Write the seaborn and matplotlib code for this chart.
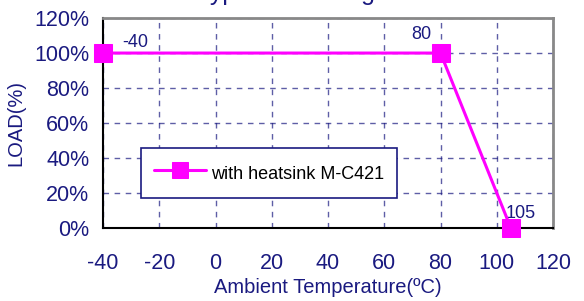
import matplotlib
matplotlib.use('Agg')
import matplotlib.pyplot as plt
from matplotlib.ticker import PercentFormatter
import seaborn as sns
import pandas as pd

temps = [-40, 80, 105]
loads = [100, 100, 0]
point_labels = ['-40', '80', '105']
series_name = 'with heatsink M-C421'
x_ticks = [-40, -20, 0, 20, 40, 60, 80, 100, 120]
y_ticks = [0, 20, 40, 60, 80, 100, 120]

sns.set_style('white')
plt.rcParams['font.family'] = ['Liberation Sans', 'DejaVu Sans']
plt.rcParams['axes.unicode_minus'] = False

navy = '#1a1a80'
magenta = '#ff00ff'

df = pd.DataFrame({'temp': temps, 'load': loads, 'series': series_name})

fig = plt.figure(figsize=(5.84, 3.01), dpi=100)
ax = fig.add_axes([0.1764, 0.2425, 0.7706, 0.6975])

sns.lineplot(data=df, x='temp', y='load', hue='series', palette=[magenta],
             marker='s', markersize=13, markeredgecolor=magenta,
             linewidth=2.2, ax=ax, clip_on=False, zorder=5)

ax.set_xlim(-40, 120)
ax.set_ylim(0, 120)
ax.set_xticks(x_ticks)
ax.set_yticks(y_ticks)
ax.yaxis.set_major_formatter(PercentFormatter(decimals=0))

# dashed grid
ax.grid(True, linestyle=(0, (4, 4)), color=navy, linewidth=1.0, alpha=0.7)
ax.set_axisbelow(True)

ax.tick_params(direction='in', length=4, width=1, colors='black',
               labelcolor=navy, labelsize=15.5)
ax.tick_params(axis='x', pad=18)
ax.tick_params(axis='y', pad=10)
for side in ['left', 'bottom']:
    ax.spines[side].set_color('black')
    ax.spines[side].set_linewidth(1.5)
for side in ['top', 'right']:
    ax.spines[side].set_color('#888888')
    ax.spines[side].set_linewidth(2)

ax.set_xlabel('Ambient Temperature(ºC)', color=navy, fontsize=14.5, labelpad=3)
ax.set_ylabel('LOAD(%)', color=navy, fontsize=14.5, labelpad=6)

offsets = [(32, 11), (-19, 19), (10, 15)]
for t, l, lab, off in zip(temps, loads, point_labels, offsets):
    ax.annotate(lab, (t, l), xytext=off, textcoords='offset pixels',
                ha='center', va='center', color=navy, fontsize=13)

leg = ax.legend(loc='lower left', bbox_to_anchor=(0.0844, 0.143), frameon=True,
                fancybox=False, edgecolor=navy, framealpha=1, fontsize=13,
                handlelength=2.9, handleheight=1.75, handletextpad=0.3,
                borderpad=0.7, borderaxespad=0)
leg.get_frame().set_linewidth(1.2)
for txt in leg.get_texts():
    txt.set_color('black')
for h in leg.legend_handles:
    h.set_markersize(12)

# title cut off at the top edge, as in the source image
fig.text(0.335, 1.0, 'Typical Derating Curve', ha='left', va='baseline',
         color=navy, fontsize=18)

fig.savefig('out.png', dpi=100)
